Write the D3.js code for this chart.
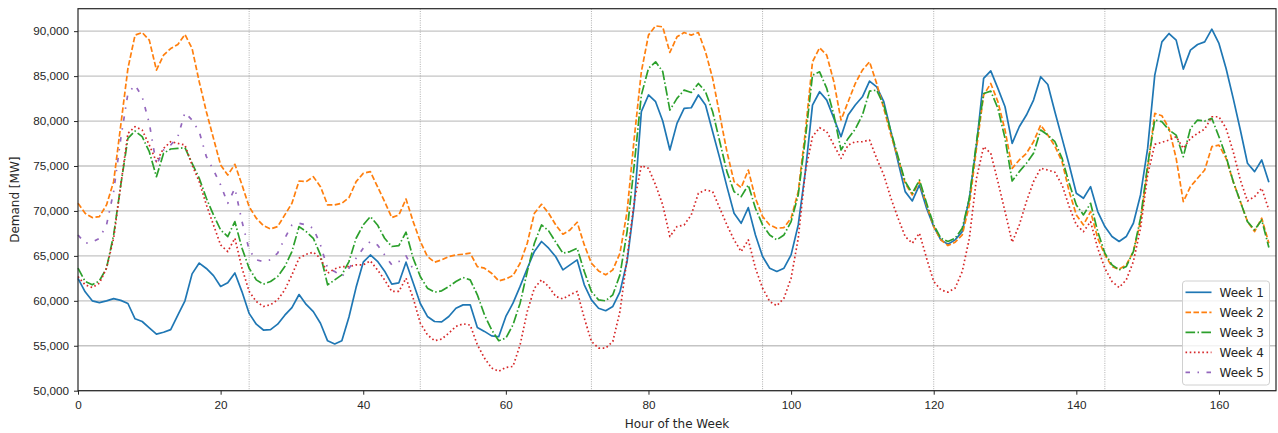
<!DOCTYPE html>
<html>
<head>
<meta charset="utf-8">
<script src="https://cdn.jsdelivr.net/npm/d3@7"></script>
<style>
  body { margin: 0; background: #fff; }
  svg { display: block; font-family: 'DejaVu Sans', sans-serif; }
  .axis text { font-size: 11.7px; fill: #262626; }
  .axis path { display: none; }
  .axis line { stroke: #262626; stroke-width: 1; }
</style>
</head>
<body>
<div id="chart"></div>
<script>
// Hourly demand [MW] per week
const week1 = [62500, 61000, 60000, 59800, 60000, 60250, 60050, 59700, 58000, 57700,
  57000, 56300, 56500, 56800, 58400, 60000, 63000, 64200, 63600, 62800,
  61600, 62000, 63100, 61000, 58600, 57400, 56750, 56800, 57400, 58400,
  59250, 60700, 59600, 58800, 57500, 55550, 55200, 55550, 58200, 61500,
  64300, 65100, 64400, 63300, 61850, 62000, 64300, 62000, 59700, 58260,
  57700, 57650, 58260, 59180, 59550, 59550, 57030, 56600, 56100, 56000,
  58260, 59740, 61600, 63600, 65500, 66600, 65850, 64900, 63440, 64000,
  64550, 61780, 60100, 59180, 58900, 59370, 61000, 64370, 70670, 81040,
  82900, 82150, 80000, 76780, 79740, 81400, 81480, 82900, 81780, 78820,
  75850, 72700, 69740, 68630, 70370, 67330, 64930, 63630, 63260, 63630,
  65110, 68440, 74370, 81780, 83260, 82330, 80300, 78260, 80670, 81780,
  82700, 84440, 83800, 82150, 78820, 75480, 72150, 71110, 72890, 70300,
  68260, 66780, 66300, 66780, 67700, 71410, 77330, 84740, 85590, 83630,
  81590, 77520, 79370, 80670, 82330, 84930, 84070, 81000, 78070, 75110,
  71960, 71410, 72700, 69930, 68260, 67150, 66600, 67150, 68630, 71780,
  76960, 85110, 88810, 89740, 89000, 85780, 87890, 88520, 88810, 90220,
  88630, 85850, 82520, 79000, 75300, 74370, 75670, 73190]

const week2 = [70850, 69740, 69260, 69370, 70670, 73260, 79560, 85850, 89560, 89850,
  89000, 85670, 87330, 88070, 88520, 89630, 88070, 84370, 81040, 78070,
  75110, 74000, 75190, 72890, 70480, 69190, 68370, 68000, 68260, 69560,
  70850, 73330, 73260, 73810, 72700, 70670, 70670, 70850, 71480, 73260,
  74180, 74370, 72700, 71040, 69260, 69560, 71330, 68810, 66600, 64930,
  64300, 64560, 64930, 65110, 65180, 65300, 63810, 63630, 63070, 62220,
  62440, 62810, 64180, 66410, 69740, 70740, 69740, 68440, 67410, 67890,
  68740, 66220, 64180, 63330, 62890, 63440, 65300, 69930, 78070, 85480,
  89560, 90590, 90480, 87630, 89370, 89850, 89560, 89850, 87700, 84740,
  80670, 76590, 73260, 72590, 74550, 71410, 69370, 68440, 68070, 68150,
  69190, 72150, 78820, 86590, 88150, 87330, 84370, 80110, 82150, 84180,
  85670, 86590, 84180, 81410, 78440, 75850, 73070, 71780, 73260, 70670,
  68260, 66780, 66150, 66520, 67330, 70670, 76960, 82890, 84180, 82150,
  79000, 74740, 75670, 76410, 77700, 79560, 78440, 77200, 75480, 72150,
  69560, 68440, 69930, 66960, 65110, 63810, 63520, 64000, 65480, 68810,
  74740, 80850, 80590, 79180, 75850, 71040, 72700, 73630, 74550, 77150,
  77330, 75850, 73260, 71040, 68810, 67700, 69190, 66410]

const week3 = [63630, 62150, 61780, 62220, 63630, 67330, 72890, 78070, 78890, 78260,
  76590, 73810, 76410, 76890, 76960, 77040, 75300, 73630, 71410, 69560,
  67890, 67150, 68810, 65850, 63630, 62330, 61850, 62150, 62700, 63810,
  65480, 68260, 67700, 66960, 65110, 61780, 62330, 62890, 64370, 66960,
  68440, 69370, 68440, 66960, 66040, 66150, 67630, 64740, 62700, 61410,
  60960, 61110, 61590, 62150, 62590, 62330, 60670, 58440, 56780, 55560,
  55850, 57330, 59740, 63260, 66410, 68440, 67780, 66520, 65300, 65480,
  65850, 63260, 61040, 60110, 60000, 60670, 62890, 67700, 75110, 82890,
  85850, 86590, 85500, 81220, 82520, 83440, 83180, 84180, 83260, 81040,
  77700, 74370, 72150, 71590, 72890, 70300, 68440, 67330, 66780, 67330,
  68810, 71780, 78070, 85110, 85480, 83630, 80670, 76780, 78070, 79100,
  80670, 83330, 83440, 81780, 78820, 76040, 73260, 71960, 73440, 70850,
  68440, 66960, 66600, 66960, 68070, 71410, 77700, 83070, 83330, 81410,
  78070, 73330, 74370, 75300, 76410, 79000, 78440, 77700, 75850, 73070,
  70670, 69560, 70850, 67700, 65300, 64000, 63440, 63810, 65480, 69190,
  75110, 80110, 79930, 79000, 78440, 76040, 79180, 80110, 80000, 80300,
  78260, 76040, 73260, 71040, 68810, 67890, 69000, 65930]

const week4 = [62700, 61780, 61480, 61960, 63630, 66960, 72890, 78630, 79370, 79000,
  77330, 75480, 76960, 77700, 77520, 77330, 75110, 73260, 70670, 68440,
  66220, 65480, 66960, 63630, 61040, 59930, 59370, 59560, 60110, 61220,
  62890, 64740, 65180, 65410, 64740, 63070, 63560, 63810, 63810, 64000,
  64000, 64440, 63440, 62330, 61040, 61040, 62520, 60300, 57520, 56220,
  55560, 55740, 56410, 57150, 57440, 57300, 55110, 53630, 52520, 52150,
  52590, 52700, 55110, 58810, 61410, 62330, 61590, 60480, 60220, 60670,
  61040, 58070, 55480, 54740, 54740, 55480, 58810, 64740, 71040, 75040,
  74740, 72890, 70670, 67150, 68260, 68440, 69560, 71960, 72330, 72150,
  70300, 68440, 66780, 65480, 66780, 63630, 61410, 59930, 59450, 60300,
  62520, 66960, 74370, 78260, 79260, 78820, 77330, 75850, 77330, 77700,
  77700, 77890, 75850, 74000, 71410, 69190, 67150, 66410, 67520, 64740,
  62150, 61220, 60960, 61410, 63260, 66960, 73630, 77150, 76410, 73260,
  69930, 66520, 68440, 71040, 73260, 74740, 74550, 74300, 72890, 70480,
  68440, 67700, 68810, 65850, 63630, 62150, 61480, 62330, 64370, 68070,
  74000, 77410, 77630, 77890, 78260, 76960, 78070, 78630, 79110, 80480,
  80480, 79180, 76590, 73440, 71110, 71590, 72520, 70110]

// week 5 only covers the first two days
const week5 = [67330, 66410, 66520, 66960, 68440, 72150, 78070, 83070, 84000, 82700,
  79740, 75110, 76780, 77330, 78260, 80960, 80110, 78820, 76040, 74550,
  72890, 70850, 72520, 68810, 65670, 64560, 64370, 64560, 65300, 66960,
  68440, 68630, 68440, 68070, 66220, 63630, 63260, 62700, 63630, 64740,
  65850, 66600, 66220, 65110, 64000, 64370, 65000, 63500]

const seriesNames = ['Week 1', 'Week 2', 'Week 3', 'Week 4', 'Week 5']
const xTicks = [0, 20, 40, 60, 80, 100, 120, 140, 160]
const yTicks = [50000, 55000, 60000, 65000, 70000, 75000, 80000, 85000, 90000]
const dayBoundaries = [24, 48, 72, 96, 120, 144]

const styles = [
  { color: '#1f77b4', dash: null },
  { color: '#ff7f0e', dash: '5.55,2.4' },
  { color: '#2ca02c', dash: '9.6,2.4,1.5,2.4' },
  { color: '#d62728', dash: '1.6,2.6' },
  { color: '#9467bd', dash: '4.5,7.5,1.5,7.5' }
]

drawChart()

function drawChart () {
  const width = 1278
  const height = 433
  const margin = { top: 8.7, right: 2, bottom: 42.3, left: 78 }

  const series = [week1, week2, week3, week4, week5]

  const x = d3.scaleLinear()
    .domain([0, 168])
    .range([margin.left, width - margin.right])

  const y = d3.scaleLinear()
    .domain([50000, 92500])
    .range([height - margin.bottom, margin.top])

  const svg = d3.select('#chart')
    .append('svg')
    .attr('width', width)
    .attr('height', height)

  // horizontal grid
  svg.append('g')
    .selectAll('line')
    .data(yTicks)
    .join('line')
    .attr('x1', margin.left)
    .attr('x2', width - margin.right)
    .attr('y1', d => y(d))
    .attr('y2', d => y(d))
    .attr('stroke', '#c4c4c4')
    .attr('stroke-width', 1.3)

  // day separators
  svg.append('g')
    .selectAll('line')
    .data(dayBoundaries)
    .join('line')
    .attr('x1', d => x(d))
    .attr('x2', d => x(d))
    .attr('y1', margin.top)
    .attr('y2', height - margin.bottom)
    .attr('stroke', '#9a9a9a')
    .attr('stroke-width', 0.8)
    .attr('stroke-dasharray', '1,1.3')

  const line = d3.line()
    .x((d, i) => x(i))
    .y(d => y(d))

  svg.append('g')
    .selectAll('path')
    .data(series)
    .join('path')
    .attr('d', line)
    .attr('fill', 'none')
    .attr('stroke', (d, i) => styles[i].color)
    .attr('stroke-width', 1.7)
    .attr('stroke-dasharray', (d, i) => styles[i].dash)
    .attr('stroke-linejoin', 'round')

  // axes
  svg.append('g')
    .attr('class', 'axis')
    .attr('transform', `translate(0,${height - margin.bottom})`)
    .call(d3.axisBottom(x).tickValues(xTicks).tickSize(4).tickPadding(6))

  svg.append('g')
    .attr('class', 'axis')
    .attr('transform', `translate(${margin.left},0)`)
    .call(d3.axisLeft(y).tickValues(yTicks).tickFormat(d3.format(',')).tickSize(4).tickPadding(5))

  // frame
  svg.append('rect')
    .attr('x', margin.left)
    .attr('y', margin.top)
    .attr('width', width - margin.left - margin.right)
    .attr('height', height - margin.top - margin.bottom)
    .attr('fill', 'none')
    .attr('stroke', '#262626')
    .attr('stroke-width', 1.2)

  svg.append('text')
    .attr('x', (margin.left + width - margin.right) / 2)
    .attr('y', 428)
    .attr('text-anchor', 'middle')
    .attr('font-size', '12px')
    .attr('fill', '#262626')
    .text('Hour of the Week')

  svg.append('text')
    .attr('transform', `translate(19,${(margin.top + height - margin.bottom) / 2}) rotate(-90)`)
    .attr('text-anchor', 'middle')
    .attr('font-size', '12px')
    .attr('fill', '#262626')
    .text('Demand [MW]')

  // legend
  const legend = svg.append('g')
    .attr('transform', 'translate(1182.5,281)')

  legend.append('rect')
    .attr('width', 87)
    .attr('height', 104)
    .attr('rx', 3)
    .attr('fill', '#fff')
    .attr('fill-opacity', 0.8)
    .attr('stroke', '#d0d0d0')

  const item = legend.selectAll('g.item')
    .data(seriesNames)
    .join('g')
    .attr('class', 'item')
    .attr('transform', (d, i) => `translate(0,${11.3 + i * 20})`)

  item.append('line')
    .attr('x1', 3)
    .attr('x2', 29)
    .attr('stroke', (d, i) => styles[i].color)
    .attr('stroke-width', 1.7)
    .attr('stroke-dasharray', (d, i) => styles[i].dash)

  item.append('text')
    .attr('x', 37)
    .attr('dy', '0.35em')
    .attr('font-size', '12px')
    .attr('fill', '#262626')
    .text(d => d)
}
</script>
</body>
</html>
